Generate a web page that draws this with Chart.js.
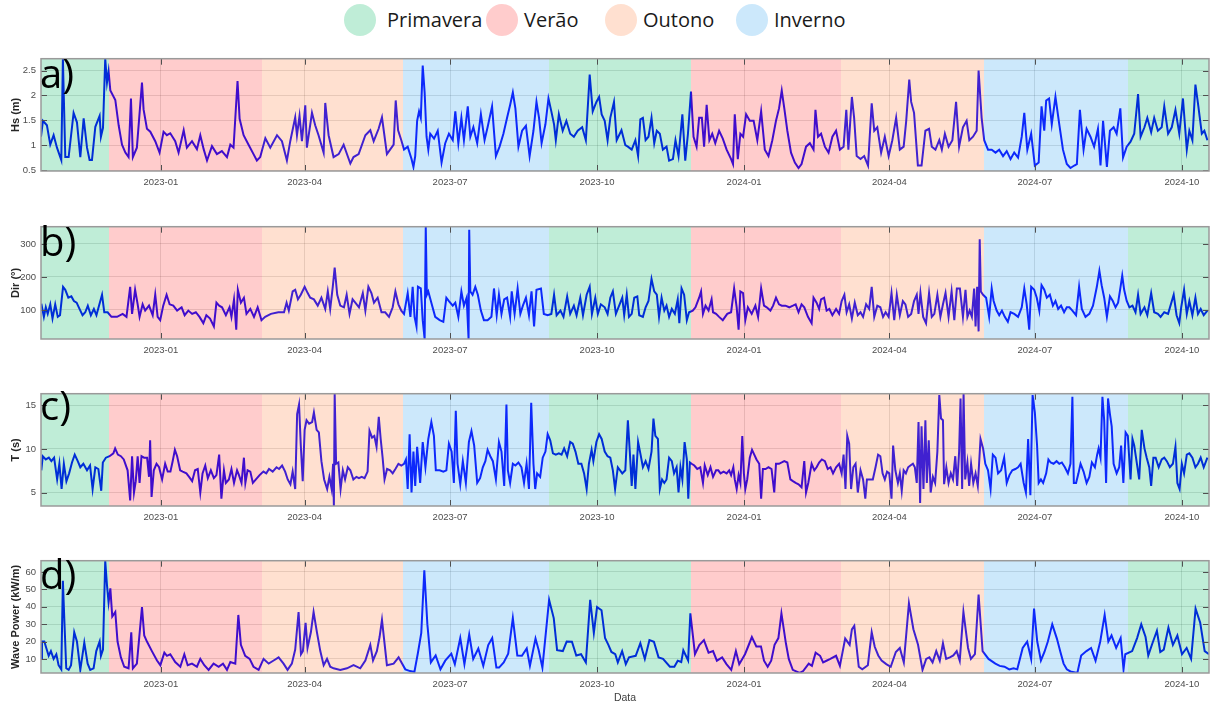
<!DOCTYPE html>
<html>
<head>
<meta charset="utf-8">
<title>Hs, Dir, T e Wave Power por estação</title>
<script src="https://cdn.jsdelivr.net/npm/chart.js@4.4.1/dist/chart.umd.min.js"></script>
<style>
  html, body { margin: 0; padding: 0; background: #fff; }
  body { width: 1212px; height: 704px; position: relative; overflow: hidden; font-family: 'Open Sans', 'Noto Sans', sans-serif; }
  .legend-dot { position: absolute; width: 32px; height: 32px; border-radius: 50%; }
  .legend-text { position: absolute; font-size: 20px; line-height: 32px; color: #1a1a1a; white-space: nowrap; }
  .panel { position: absolute; left: 0; width: 1212px; }
  .panel canvas { display: block; }
  .panel-label { position: absolute; left: 40px; font-size: 40px; line-height: 40px; color: #000; pointer-events: none; }
</style>
</head>
<body>
<div id="legend"></div>
<div id="panels"></div>
<script>
// x axis is in days since 2022-10-18
const xMin = 0;
const xMax = 731;
const tickDays = [75, 165, 256, 348, 440, 531, 622, 714];
const tickLabels = ['2023-01', '2023-04', '2023-07', '2023-10', '2024-01', '2024-04', '2024-07', '2024-10'];

const seasonNames = ['Primavera', 'Verão', 'Outono', 'Inverno'];
const seasonColors = ['rgba(0,183,95,0.25)', 'rgba(255,51,51,0.25)', 'rgba(255,131,67,0.25)', 'rgba(51,163,239,0.25)'];
const seasonStarts = [0, 42.5, 138.5, 226.5, 318, 407, 500.5, 590, 680];
const seasonOfBand = [0, 1, 2, 3, 0, 1, 2, 3, 0];

// [day, value]
const hsPoints = [[0,1.17],[1.2,1.49],[3.7,1.40],[5.8,1.01],[7.9,1.2],[10,0.95],[12.7,0.7],[13.7,2.74],[15.2,0.76],[17.3,0.76],[20.4,1.65],[22.5,1.46],[24.6,0.76],[26.7,1.54],[28.8,0.95],[30.4,0.7],[31.9,0.7],[34,1.37],[36.7,1.59],[37.5,1.17],[38.8,1.35],[40.2,2.74],[41.3,2.26],[42.3,2.49],[43.4,2.1],[46.5,1.91],[48.6,1.40],[50.7,1.01],[52.8,0.85],[54.8,0.76],[56.3,1.94],[57.5,0.76],[60,0.95],[63.2,2.26],[64.2,1.72],[66.3,1.33],[68.4,1.27],[71.5,1.08],[74.2,0.85],[76.7,1.27],[78.8,1.2],[80.9,1.24],[84,1.08],[86.1,0.85],[89.3,1.30],[91.3,0.95],[94.5,1.08],[97.6,0.92],[99.7,1.2],[101.8,0.92],[103.9,0.69],[107,0.98],[110.1,0.82],[113.2,0.88],[116.4,0.76],[118.5,1.01],[120.5,0.95],[123,2.29],[124.3,1.53],[126.8,1.2],[129.9,1.01],[133,0.82],[135.1,0.69],[137.2,0.76],[140.4,1.14],[143.5,0.95],[147.7,1.2],[150.8,1.08],[153.9,0.69],[156,1.08],[159.1,1.56],[160.2,1.2],[161.8,1.59],[163.3,1.08],[165.4,1.8],[166.4,0.95],[169.6,1.65],[171.6,1.40],[173.7,1.2],[176.9,0.85],[177.9,1.85],[180,1.2],[183.1,0.76],[186.3,0.82],[189.4,1.01],[193.6,0.63],[195.6,0.76],[198.8,0.82],[203,1.2],[206.1,1.30],[208.2,1.08],[211.3,1.33],[213.4,1.56],[216.5,0.82],[220.7,1.01],[222,1.9],[223.5,1.3],
[225.5,1.10],[227.2,0.91],[229.5,0.97],[231.9,0.72],[233.1,0.56],[234.2,0.78],[235.4,1.49],[236.6,1.68],[237.7,1.55],[238.9,2.6],[240.1,2.06],[241.3,1.17],[242.4,0.91],[243.6,1.23],[246,1.13],[248.3,1.29],[250.7,0.65],[253,1.04],[255.3,1.23],[257.7,1.1],[259.3,1.68],[261.2,1.04],[263.1,1.55],[264.7,1.1],[267.1,1.78],[268.7,1.17],[270.6,1.36],[273,1.04],[275.3,1.62],[277.6,1.1],[279.5,1.36],[282.3,1.78],[284.7,0.78],[287,0.97],[289.4,1.23],[291.7,1.55],[293.6,1.81],[295.3,2.06],[296.9,1.74],[298.8,0.97],[301.1,1.29],[303.5,1.39],[305.8,0.78],[308.2,1.29],[310.1,1.87],[311.7,1.55],[313.3,1.04],[315.7,1.42],[317.6,1.94],[319.4,1.68],[321.1,1.42],[322.2,1.1],[324.1,1.62],[326.5,1.29],[328.8,1.49],[331.2,1.23],[333.5,1.17],[335.9,1.29],[338.7,1.36],[341,1.1],[343.4,2.42],[345.3,1.68],[347.6,1.87],[349.3,1.97],[350.9,1.62],[352.8,1.49],[354.6,1.1],[356.3,1.55],[358.6,1.87],[360.3,1.1],[363.3,1.3],[365.7,1.0],
[367.3,0.97],[369.7,0.91],[372,1.1],[373.7,0.78],[375.1,1.52],[376.7,1.55],[378.4,1.1],[380.2,1.17],[382.1,1.55],[383.8,1.04],[385.4,1.29],[387.3,1.23],[389.2,0.91],[391.5,0.97],[393.1,0.69],[395.5,0.72],[397.1,1.1],[399,0.78],[401.4,1.62],[403.2,0.69],[404.9,1.23],[406.8,2.08],[408.4,1.17],[410.3,0.97],[411.9,1.55],[413.6,1.55],[415,0.97],[416.6,1.81],[418.3,1.1],[420.1,1.23],[422,1.04],[424.4,1.29],[426.7,1.13],[429.1,0.91],[431.9,0.72],[433.1,0.62],[434.2,1.62],[436.1,0.72],[437.7,1.23],[439.4,1.17],[441.3,1.62],[443.6,1.49],[446,1.49],[448.3,1.1],[450.7,1.68],[453,0.91],[455.3,0.78],[457.7,1.1],[460,1.49],[461.9,1.74],[463.6,2.1],[465.2,1.74],[467.1,1.29],[469.4,0.85],[471.8,0.65],[474.1,0.54],[476,0.62],[478.8,0.97],[481.2,1.04],[483.5,0.91],[484.7,1.71],[486.3,1.17],[488.2,1.23],[490.6,0.97],[492.9,0.85],[495.3,1.17],[497.6,1.29],[500,0.91],[502.3,0.97],[504,1.71],[505.3,0.91],[507.5,1.97],[508.9,1.55],[510.5,0.78],[512.9,0.72],[515.2,0.78],[517.6,0.59],[519.9,1.84],[521.5,1.29],[523.4,1.36],[525.8,0.85],[528.1,1.17],[530.5,0.78],[532.8,1.1],[535.2,1.55],[537.5,0.91],[539.9,0.97],[541.5,1.49],[543.4,2.32],[544.6,1.87],[546.4,1.65],[548.8,0.59],[551.1,0.59],[553.5,1.29],[555.8,1.33],[557.5,0.97],[559.8,0.91],[562.2,1.1],[563.8,0.91],[565.7,1.23],[568,0.97],[570.4,1.1],[572.7,1.87],[574.6,0.97],[577,1.36],[579.3,1.49],[581,1.1],[583.3,1.17],[585.6,1.29],[586.8,2.5],[588.7,1.55],[590.3,1.1],[592.7,0.91],[595,0.91],[597.4,0.85],[599.7,0.91],[602.1,0.78],[604.4,0.88],[606.8,0.72],[609.1,0.85],[611.5,0.75],[613.8,1.17],[615.4,1.65],[617.3,0.91],[619.7,1.23],[622,0.59],[624.4,0.65],[626.2,1.78],[627.9,1.29],[629.1,1.9],[630.9,1.94],[632.6,1.42],[634.9,1.97],[637.3,1.42],[639.6,0.91],[642,0.62],[644.3,0.54],[646.7,0.59],[648.3,0.62],[650.2,1.71],[652.5,0.91],[654.4,1.33],[656.8,1.17],[659.1,0.97],[661.5,1.33],[663.1,0.59],[664.7,1.49],[667.1,0.56],[669,1.29],[671.3,1.36],[673.2,1.23],[675.5,1.74],[677.2,0.75],[679.5,0.97],[681.9,1.07],[684.2,1.23],[686.6,2.03],[688.2,1.17],[690.6,1.36],[692.4,1.55],[694.8,1.26],[696.7,1.55],[699,1.29],[701.4,1.36],[703,1.78],[705.4,1.23],[707.7,1.36],[710,1.71],[712.4,1.23],[714.7,1.94],[717.1,0.91],[718.7,1.29],[720.6,1.1],[722.5,2.22],[724.1,1.84],[726.5,1.23],[728.1,1.29],[730,1.1]];

const dirPoints = [[0.2,119],[1.8,79],[3,108],[4.2,88],[5.8,117],[7.2,74],[8.9,117],[10.5,79],[11.9,84],[13.8,170],[15.2,161],[17.1,137],[19,141],[20.6,127],[22.3,122],[24.1,103],[26,84],[27.7,93],[29.3,113],[31.2,84],[33.1,103],[34.7,84],[36.3,113],[38.2,146],[39.6,93],[41.7,93],[44.1,79],[47.6,79],[51.1,88],[53.5,79],[55.8,170],[57,88],[58.9,161],[60.5,117],[61.7,79],[63.6,117],[65.2,98],[67.6,113],[69.9,84],[71.5,146],[73,79],[74.6,69],[76.5,113],[78.6,146],[80.5,117],[82.8,113],[85.2,98],[88,108],[89.9,84],[92.2,98],[94.6,88],[96.9,93],[99.2,79],[101.6,60],[103.5,84],[105.8,74],[108.2,50],[109.8,122],[111.5,113],[113.3,108],[115.7,84],[118,108],[119.2,79],[120.8,132],[122.2,40],[123.2,161],[125.1,122],[127,137],[128.6,88],[131,103],[133.3,79],[135.6,108],[138,69],[140.3,79],[143.9,88],[148.5,93],[152.1,93],[153.7,122],[155.1,98],[157.5,156],[159.1,161],[160.8,132],[162.6,146],[165,170],[166.9,151],[168.5,137],[170.8,132],[173.2,113],[175.5,137],[177.9,103],[179.5,156],[181,103],[182.6,170],[183.8,228],[185.4,146],[187.3,113],[189.6,108],[191.3,146],[193.1,88],[195,132],[196.7,122],[199,108],[201.4,151],[203,98],[204.9,170],[206.8,151],[208.4,122],[210.7,137],[213.1,93],[215.4,93],[217.8,79],[220.1,108],[221.8,156],[223.7,117],[225.5,98],[227.2,88],[229.5,151],[231.2,79],[232.6,170],[233.8,79],[235,50],[235.9,170],[237.7,165],[238.9,69],[240.1,12],[240.8,352],[241.5,146],[242.4,156],[244.3,122],[246.7,79],[249.5,69],[251.8,64],[253.7,137],[255.3,127],[257.7,113],[259.3,122],[261.2,79],[263.1,156],[264.7,113],[266.4,137],[267.6,12],[268,343],[268.7,156],[270.1,146],[271.8,170],[273.4,146],[275.3,98],[277.2,69],[279.5,69],[281.9,79],[283.5,165],[285.2,84],[286.6,146],[288.2,88],[289.9,132],[291.7,137],[293.6,79],[294.6,156],[296.4,88],[298.3,165],[300,88],[301.6,113],[303.5,137],[305.4,84],[307,156],[308.6,50],[310.1,161],[312.9,165],[314.7,88],[317.1,84],[319.4,88],[321.1,146],[322.7,84],[325.1,98],[327,79],[329.3,141],[331.2,88],[333.5,113],[335.2,84],[337.5,137],[339.2,84],[341.5,146],[343.4,170],[344.8,88],[346.9,137],[348.5,88],[350.4,117],[352.8,108],[354.6,88],[356.3,137],[357.9,156],[359.8,88],
[363.8,137],[365,84],[366.6,146],[368,79],[369.7,88],[371.3,137],[373.2,141],[374.4,84],[376.7,79],[378.4,108],[380.2,127],[382.1,194],[383.8,156],[385.4,146],[386.8,79],[388.4,137],[390.1,98],[391.5,113],[393.1,79],[394.8,103],[396.7,88],[398.5,132],[399.5,60],[400.9,165],[402.5,146],[404.2,69],[405.6,93],[407.9,98],[409.6,108],[411.9,137],[413.1,156],[414.3,88],[415.9,113],[417.8,98],[419.7,132],[420.6,93],[422.5,88],[424.4,79],[426.7,69],[429.5,88],[431.9,93],[433.8,165],[435.4,108],[436.6,40],[437.7,156],[439.4,151],[440.8,69],[442.4,108],[444.8,88],[447.1,113],[448.8,79],[450.7,165],[452.5,113],[454.2,108],[456.5,98],[458.2,113],[460,137],[461.9,117],[463.6,113],[465.9,113],[468.3,108],[470.6,113],[472.3,117],[474.1,93],[476,117],[477.7,108],[480,79],[482.3,60],[483.5,137],[485.4,122],[487,103],[488.2,132],[490.1,137],[491.7,98],[493.4,103],[495.3,84],[497.6,103],[499.5,88],[501.1,127],[502.8,146],[504.2,93],[505.8,117],[507.5,74],[509.3,122],[511.2,84],[512.9,93],[514.5,79],[516.4,117],[518.3,103],[519.9,170],[521.5,79],[523.4,113],[525.3,108],[527,79],[528.6,93],[530.5,79],[532.3,151],[534,69],[535.6,146],[537.5,84],[539.4,127],[541,117],[542.7,79],[544.6,88],[546.4,127],[548.1,146],[549.2,88],[550.4,151],[552.1,79],[553.9,60],[555.8,151],[557.5,79],[559.1,88],[561,146],[562.9,79],[564.5,117],[566.1,151],[568,79],[569.9,156],[571.6,69],[573.2,165],[575.1,165],[577,79],[578.6,161],[579.8,79],[581.2,98],[582.6,79],[584,165],[584.9,50],[585.9,170],[586.8,35],[587.5,314],[588.2,156],[589.6,146],[591.5,137],[593.4,79],[595,165],[596.2,127],[598.1,98],[599.7,84],[601.4,98],[603.2,79],[605.1,64],[606.8,93],[609.1,88],[611.5,79],[613.8,108],[615.4,165],[616.9,117],[618.5,40],[619.7,170],[621.6,161],[623.2,137],[624.8,98],[626.2,175],[627.9,161],[629.5,137],[631.4,146],[633.3,113],[634.9,127],[636.6,103],[638.4,113],[640.3,93],[642,108],[643.6,108],[645.5,98],[647.8,84],[649.7,170],[651.4,103],[653.7,79],[656.1,88],[658.4,113],[660.8,170],[662.4,218],[663.8,175],[665.4,137],[667.1,79],[669,141],[670.8,127],[672.5,108],[674.1,122],[675.5,165],[676.7,204],[677.9,161],[679.5,127],[681.2,108],[683.1,113],[685,93],[686.6,146],[688.2,88],[690.6,108],[692.4,84],[694.8,151],[696.7,93],[699,88],[700.7,79],[703,93],[705.4,88],[708.9,146],[710.7,84],[712.4,60],[713.6,108],[715.4,161],[717.1,88],[718.7,127],[720.6,84],[722.5,137],[724.1,88],[725.8,103],[727.7,84],[730,98]];

const tPoints = [[0.2,7.55],[1.1,9.17],[3,8.8],[4.9,9.0],[6.5,8.6],[8.2,9.0],[10.1,6.5],[11.5,8.3],[12.9,5.4],[14.3,8.3],[15.9,6.3],[17.6,7.2],[19.4,8.45],[21.1,9.35],[23,8.6],[24.6,7.9],[26.5,8.3],[28.8,7.55],[30.7,8.1],[32.3,5.4],[34,7.9],[35.9,7.7],[37.7,5.2],[38.7,8.45],[40.6,9.0],[42.9,9.17],[45.3,9.5],[46.4,10.07],[48.1,9.35],[50,9.17],[51.8,8.8],[54.2,7.55],[55.8,4.1],[57,9.17],[58.2,5.0],[59.3,6.3],[60.5,9.17],[61.7,6.1],[62.9,9.17],[64.5,9.0],[66.4,9.0],[67.6,6.8],[68.3,11.0],[69.2,4.5],[70.6,7.55],[72.3,8.3],[73.9,7.9],[75.8,6.5],[77.7,8.3],[79.3,7.4],[81,7.4],[82.4,8.6],[83.8,9.9],[85.2,9.17],[87.1,7.55],[88.7,7.4],[91,7.2],[92.7,6.8],[94.6,6.3],[96.4,7.55],[98.1,7.7],[99.7,5.0],[101.1,7.2],[102.8,8.1],[104.4,6.65],[106.3,7.55],[108.2,6.65],[109.8,7.0],[111.5,9.35],[112.9,4.3],[114.5,7.55],[115.7,6.1],[117.6,6.5],[119.2,7.7],[120.8,6.1],[122.7,7.55],[123.9,7.0],[125.5,6.1],[127,9.0],[127.9,6.1],[129.3,7.55],[131,7.4],[132.6,6.1],[134.5,6.5],[136.8,7.0],[139.2,7.4],[141,7.2],[142.7,7.7],[145,7.4],[147.4,7.9],[149,7.7],[150.9,8.1],[152.8,7.4],[154.4,6.5],[156.1,5.95],[157.5,7.4],[159.1,5.4],[160.3,14.0],[161.5,15.1],[162.6,10.4],[163.8,6.3],[165,12.2],[166.2,13.3],[167.8,12.9],[169.7,13.1],[170.8,14.2],[172.5,12.2],[173.9,11.9],[175.5,8.6],[177.2,6.5],[179.1,5.4],[180.5,6.8],[181.9,5.4],[182.8,8.3],[183.3,3.45],[183.8,16.35],[184.7,8.3],[186.1,8.45],[187.5,5.4],[188.9,7.55],[190.3,6.5],[192,7.9],[193.6,7.55],[195.5,6.5],[197.4,6.8],[199,6.65],[200.7,6.8],[202.5,6.65],[204.4,7.4],[205.6,12.1],[207.2,11.3],[208.6,11.5],[210,10.25],[211.4,13.7],[212.6,11.15],[213.8,9.0],[215,6.5],[216.6,7.7],[218.5,7.55],[220.1,7.2],[221.8,7.7],[223.7,8.3],[225.5,8.1],[227.2,8.3],[228.4,8.8],[229.5,5.4],[230.7,11.7],[231.9,5.0],[233.1,9.7],[234.2,5.75],[235.4,10.25],[237.3,6.1],[238.9,10.8],[240.6,7.9],[242.4,11.15],[244.3,13.1],[245.9,11.5],[247.1,7.55],[249.5,7.55],[251.8,7.4],[253.7,7.55],[255.3,10.6],[257,9.7],[258.4,6.1],[259.6,14.4],[260.7,8.3],[262.4,5.95],[264,8.6],[265.9,6.1],[267.8,10.8],[269.4,12.05],[271.1,10.4],[273,6.1],[274.8,6.65],[276.5,7.9],[278.1,8.6],[279.5,9.9],[281.2,9.17],[282.8,8.6],[284.7,6.5],[286.6,10.8],[288.2,9.7],[289.9,5.75],[291.3,15.1],[292.2,7.55],[293.6,6.1],[295.3,8.3],[296.9,8.1],[298.8,8.45],[300.7,7.9],[302.3,6.1],[303.9,8.3],[305.4,5.4],[306.8,15.3],[308.2,8.3],[309.3,5.4],[310.5,7.2],[312.4,6.8],[314,9.0],[315.7,9.7],[317.1,11.7],[318.7,11.0],[320.4,9.5],[322.2,9.35],[324.1,9.5],[325.8,9.35],[327.4,10.07],[329.3,9.17],[331.2,10.8],[332.8,10.6],[334.5,9.7],[336.3,8.3],[338.2,8.3],[339.9,7.2],[341.5,5.4],[342.9,8.3],[344.6,9.9],[345.7,8.6],[347.6,10.8],[349.3,11.7],[350.9,11.15],[352.8,9.7],[354.6,9.17],[356.3,9.0],[357.9,7.55],[359.3,5.4],[361,7.9],
[363.8,7.2],[365.7,7.55],[367.3,13.3],[368.5,9.7],[369.7,5.75],[370.8,9.35],[372,5.4],[373.7,10.8],[375.1,9.5],[376.7,7.9],[378.4,8.6],[380.2,7.7],[382.1,9.7],[383.3,13.5],[384.5,11.5],[386.1,11.15],[387.3,5.4],[388.7,6.5],[390.1,6.1],[391.5,6.5],[393.1,9.0],[394.8,8.6],[396.2,7.2],[397.8,7.9],[399,5.0],[400.2,7.9],[401.4,6.5],[402.8,10.8],[404.2,8.8],[405.1,4.3],[406.1,8.45],[407.2,8.3],[408.9,8.1],[410.7,7.7],[412.6,7.9],[414.3,6.1],[415.4,8.1],[417.3,7.0],[419,7.9],[420.6,6.8],[422.5,7.55],[423.9,7.55],[425.3,7.2],[427.2,7.4],[429.1,7.2],[430.7,7.55],[431.9,7.0],[433.3,7.9],[434.2,6.5],[435.4,5.4],[436.6,7.0],[437.7,6.1],[438.9,11.5],[439.9,7.2],[440.8,5.4],[442,6.5],[443.6,9.0],[445,9.9],[446.4,9.35],[447.8,8.8],[449.5,8.3],[450.7,4.3],[451.8,7.7],[453.5,7.7],[455.3,7.9],[457.2,7.7],[458.9,5.0],[460,8.3],[461.9,8.3],[463.6,8.45],[465.2,8.6],[467.1,8.45],[469,6.5],[470.6,6.3],[472.3,6.1],[474.1,5.95],[476,5.6],[477.7,8.6],[478.8,5.0],[480.2,6.1],[482.3,8.3],[484,7.55],[485.4,7.9],[487,8.45],[488.7,8.8],[490.6,8.6],[492.4,7.7],[494.1,7.9],[495.7,7.2],[497.6,7.9],[499.5,8.3],[501.1,7.2],[502.3,9.35],[503.5,5.4],[504.6,11.5],[505.8,10.6],[507,5.4],[508.4,7.9],[509.8,8.3],[511.2,5.0],[512.9,7.55],[514.5,6.5],[515.9,4.3],[516.9,6.5],[518.7,6.5],[520.6,6.5],[522.3,7.9],[523.9,9.35],[525.3,9.17],[526.7,7.2],[528.1,6.5],[529.5,7.4],[530.9,7.2],[532.3,4.3],[533.3,10.4],[534.7,7.55],[536.3,6.1],[537.5,7.2],[538.7,5.2],[539.9,7.55],[541.3,7.2],[542.7,7.9],[544.1,8.1],[545.7,8.3],[546.9,7.9],[548.1,6.1],[549.2,13.1],[550.2,3.8],[551.1,12.6],[552.3,5.4],[553.5,13.3],[554.4,6.1],[555.6,11.0],[556.8,5.0],[558.2,6.8],[559.6,6.1],[561,9.7],[562.2,16.2],[563.3,13.5],[564.5,13.3],[565.2,5.95],[566.6,7.9],[568,6.1],[569.4,7.2],[570.8,6.5],[572.2,9.17],[573.4,5.75],[574.6,9.7],[575.5,15.8],[576.5,5.4],[577.4,16.35],[578.4,6.5],[579.8,8.45],[580.9,5.75],[582.1,8.3],[583.5,6.1],[584.9,7.2],[586.3,5.75],[588,11.15],[589.6,10.07],[591,8.3],[592.7,7.55],[594.3,5.4],[595.7,9.35],[597.4,9.0],[599,7.2],[600.9,7.55],[602.8,9.0],[604.4,6.1],[606.1,7.0],[607.9,7.55],[609.8,7.7],[611.5,7.9],[613.1,8.3],[615,6.1],[616.4,5.0],[617.8,11.15],[619.2,4.7],[620.6,16.2],[622,14.2],[623.4,10.4],[624.4,6.1],[625.8,6.5],[627.2,6.1],[629.1,7.2],[630.5,8.8],[631.9,8.45],[633.7,8.3],[635.6,8.6],[637.3,8.3],[638.9,8.45],[640.8,7.9],[642.7,7.2],[644.3,8.3],[645.5,16.0],[646.4,6.1],[647.8,6.1],[649.3,7.2],[650.6,8.3],[652.5,7.4],[654.4,6.1],[656.1,6.8],[657.7,8.45],[659.6,7.9],[661,9.35],[661.9,10.07],[663.1,9.0],[664.3,16.0],[665.4,13.3],[666.6,6.1],[667.8,15.8],[669,14.0],[670.1,12.6],[671.3,8.3],[673.2,7.2],[674.8,7.9],[676,10.4],[677.4,6.1],[678.8,11.9],[680.2,11.5],[681.9,6.5],[683.1,11.15],[684.2,10.4],[685.9,8.3],[687.3,6.5],[688.9,12.2],[690.6,10.07],[692,9.0],[693.6,7.9],[694.8,5.75],[696.2,9.0],[697.6,9.0],[699.5,7.9],[701.4,8.8],[703,9.0],[704.6,8.6],[706.5,7.9],[708.4,8.3],[710,10.25],[711.2,6.1],[712.6,5.4],[714,8.3],[715.4,7.2],[717.1,9.35],[718.7,9.5],[720.6,9.0],[722.5,7.9],[724.1,8.3],[725.8,9.0],[727.7,7.9],[730,9.0]];

const powerPoints = [[0,10],[0.6,20],[2.1,20],[3.3,16.3],[4.8,11.8],[6.2,14.5],[7.9,10],[9.6,12.7],[11,6.4],[12.7,4],[13.7,55],[14.6,32.5],[15.8,4.6],[17.3,3.7],[18.8,6.4],[20.8,25.3],[22.5,20],[24.6,3.7],[27.1,19.4],[29.2,7.3],[30.8,3.7],[32.9,4.6],[34.6,14.5],[36.7,20],[37.5,11.8],[38.8,15.4],[40.2,66.5],[41.3,52.4],[42.3,42.5],[43.4,50.6],[44.6,34.4],[46.5,37],[47.9,20],[50,10.9],[52.1,5.5],[54.8,4.6],[56.5,25.3],[57.5,4.6],[60,7.3],[63.2,39.8],[64.6,23.5],[66.3,20],[69.4,14.5],[72.6,9.1],[74.7,6.4],[77.2,13.6],[78.8,11.8],[80.9,12.7],[84,8.2],[87.2,5.5],[89.7,12.7],[91.8,6.4],[94.5,7.3],[97.6,5.5],[99.7,10],[102.2,6.4],[104.9,3.7],[108,7.3],[111.2,5.5],[113.9,7.3],[116.4,3.7],[118.5,8.2],[121.6,7.3],[123.5,35.3],[125.1,18.1],[127.8,11.8],[130.6,10],[133,5.5],[136.2,3.7],[139.3,10],[142.5,7.3],[145.6,9.1],[148.7,10.9],[151.8,7.3],[154.3,3.7],[157,7.3],[159.1,15.4],[161.2,37],[162.7,12.7],[163.9,14.5],[165.6,30.8],[166.8,16.3],[168.9,25.3],[170.6,37],[172.7,25.3],[174.8,14.5],[176.9,6.4],[179,10],[181,5.5],[183.1,4.6],[187.3,3.7],[191.5,4.6],[195.6,6.4],[199.8,4.6],[203,9.1],[206.1,18.1],[207.8,9.1],[210.2,14.5],[211.9,22.6],[213.4,32.5],[216.5,6.4],[220.7,7.3],[223.8,10.9],
[228,4],[231,3],[233.7,2.5],[236,14],[238,25],[239.9,61],[241.8,30],[244,8],[247,12],[250,4],[253,9],[256.8,13],[259,7],[262.4,22],[265,7],[268,24],[270.5,10],[273.7,16],[276.8,6],[279.9,18],[282.4,22],[285,5],[286.7,5],[289.6,8],[292.4,13],[295.3,33.5],[298.1,12],[301,11.8],[304,16],[306,6],[309.5,21.7],[311.5,15],[313.8,5],[318,44],[320.9,33.5],[323,15],[326.6,14.5],[329,20],[332.3,19.9],[335,12],[338,12.7],[341,8],[343.7,44],[346,25],[348,39.8],[350.8,38],[353,22],[355.1,18.1],[357,14],[359.4,12.7],[361,8],[363.7,14.5],[366,7],[368,10.9],[372.2,11.8],[375.1,19],[377.9,10],[380.8,20.8],[383.6,19.9],[386.5,10.9],[389.3,10],[393.6,5.5],[396.4,5.5],[398.5,9],[400.7,8.2],[402,15],[405,9.1],[406.4,36.2],[409.3,12.7],[412,18],[414.9,20.8],[417.8,13.6],[420.6,14.5],[423,9],[426.3,10.9],[429,7],[432,3.7],[434.9,14.5],[437,7],[440.6,12.7],[442.5,17],[444.9,22.6],[447.7,17.2],[450.6,17.2],[452.5,9],[454.8,5.5],[457,9],[459.1,18.1],[461.5,22],[463.4,36.2],[466.2,19],[468,10],[470.5,3.7],[474.8,1.9],[477,3],[480.5,7.3],[482.5,6],[484.8,13.6],[487.6,11.8],[489.5,8],[491.9,9.1],[494,10],[497.6,11.8],[500,6],[503.3,21.7],[506.1,18.1],[507.5,27],[509,29],[511.8,5.5],[514,4],[517.5,6.4],[519.9,25.3],[521.8,17],[524,12],[526.1,9.1],[529,7],[531.8,5.5],[535,14],[537.5,16.3],[540,8],[543.2,42],[546,27.1],[548.9,18.1],[551.7,3.7],[554,10],[556,10.9],[558,8],[560.3,14.5],[562.5,9],[564.5,19],[566.5,10],[568.8,10.9],[571,12],[573.1,14.5],[575,9],[577.3,37.1],[580.2,16.3],[582,10],[584.5,12.7],[586.8,47],[589.3,14.5],[593,10],[597.3,7.3],[600,6],[603,5.5],[606,4],[608.7,4.6],[611,4],[614.4,16.3],[617.2,19.9],[619.7,10],[621.5,38.9],[623.5,20],[625.8,9.1],[628,14],[630.1,19.9],[632.9,29.9],[635.8,21.7],[638,14],[640,7.3],[642,4],[644.3,2.8],[648.6,1.9],[651,12],[654.3,14.5],[657.2,16.3],[660,9],[662.9,19.9],[665.7,35.3],[668,20],[670,23.5],[672.9,16.3],[675.7,22],[677.5,4],[678.6,12.7],[682.9,14.5],[686,22],[688.6,29.9],[691.3,22.6],[693,12],[695.6,19],[698.4,26.2],[700.5,14],[702.7,15.4],[705.6,28],[708.4,18.1],[711.2,23.5],[714.1,12.7],[717,16.3],[719.8,10],[722.6,38.9],[725.5,30.8],[728.3,14.5],[731,12.7]];

// panel layout
const panels = [
  { label: 'a)', title: 'Hs (m)', points: hsPoints, min: 0.48, max: 2.74, yTicks: [0.5, 1, 1.5, 2, 2.5], top: 52, labelTop: 52.5 },
  { label: 'b)', title: 'Dir (°)', points: dirPoints, min: 12, max: 352, yTicks: [100, 200, 300], top: 220, labelTop: 220.5 },
  { label: 'c)', title: 'T (s)', points: tPoints, min: 3.45, max: 16.35, yTicks: [5, 10, 15], top: 387, labelTop: 385 },
  { label: 'd)', title: 'Wave Power (kW/m)', points: powerPoints, min: 1.9, max: 66.5, yTicks: [10, 20, 30, 40, 50, 60], top: 554, labelTop: 554, xTitle: 'Data' }
];
const plotHeight = 119;
const padTop = 4;

function buildLegend(){
  const legend = document.getElementById('legend');
  const dotCenters = [360, 502, 621, 752];
  const textLefts = [387, 524, 643, 774];
  for (let i = 0; i < seasonNames.length; i++){
    const dot = document.createElement('div');
    dot.className = 'legend-dot';
    dot.style.left = (dotCenters[i] - 16) + 'px';
    dot.style.top = '4px';
    dot.style.background = seasonColors[i];
    legend.appendChild(dot);
    const txt = document.createElement('div');
    txt.className = 'legend-text';
    txt.style.left = textLefts[i] + 'px';
    txt.style.top = '4px';
    txt.innerText = seasonNames[i];
    legend.appendChild(txt);
  }
}

const seasonPlugin = {
  id: 'seasonBands',
  afterDatasetsDraw(chart) {
    const {ctx, chartArea, scales} = chart;
    const {left, right, top, bottom} = chartArea;
    ctx.save();
    // seasons drawn over the line, semi transparent
    for (let i = 0; i < seasonStarts.length; i++){
      const end = i + 1 < seasonStarts.length ? seasonStarts[i + 1] : xMax;
      const x0 = Math.round(scales.x.getPixelForValue(seasonStarts[i]));
      const x1 = Math.round(scales.x.getPixelForValue(end));
      ctx.fillStyle = seasonColors[seasonOfBand[i]];
      ctx.fillRect(x0, top, x1 - x0, bottom - top);
    }
    // tick marks inside the box
    ctx.strokeStyle = '#505050';
    ctx.lineWidth = 1;
    ctx.beginPath();
    tickDays.forEach(d => {
      const px = Math.round(scales.x.getPixelForValue(d)) + 0.5;
      ctx.moveTo(px, top); ctx.lineTo(px, top + 6);
      ctx.moveTo(px, bottom); ctx.lineTo(px, bottom - 6);
    });
    scales.y.ticks.forEach(t => {
      const py = Math.round(scales.y.getPixelForValue(t.value)) + 0.5;
      ctx.moveTo(left, py); ctx.lineTo(left + 6, py);
      ctx.moveTo(right, py); ctx.lineTo(right - 6, py);
    });
    ctx.stroke();
    // box
    ctx.strokeStyle = '#9a9a9a';
    ctx.lineWidth = 1.5;
    ctx.strokeRect(left, top, right - left, bottom - top);
    ctx.restore();
  }
};

function makePanel(p){
  const xAxisH = p.xTitle ? 31 : 22;
  const holder = document.createElement('div');
  holder.className = 'panel';
  holder.style.top = (p.top - padTop) + 'px';
  const canvas = document.createElement('canvas');
  canvas.width = 1212;
  canvas.height = padTop + plotHeight + xAxisH;
  holder.appendChild(canvas);
  const lab = document.createElement('div');
  lab.className = 'panel-label';
  lab.style.top = (p.labelTop - p.top + padTop) + 'px';
  lab.innerText = p.label;
  holder.appendChild(lab);
  document.getElementById('panels').appendChild(holder);

  new Chart(canvas.getContext('2d'), {
    type: 'line',
    data: {
      datasets: [{
        data: p.points.map(d => ({x: d[0], y: d[1]})),
        borderColor: 'rgb(0,0,255)',
        borderWidth: 2,
        pointRadius: 0,
        tension: 0,
        fill: false
      }]
    },
    options: {
      responsive: false,
      animation: false,
      events: [],
      layout: { padding: { top: padTop, right: 3, left: 0, bottom: 0 } },
      plugins: { legend: { display: false }, tooltip: { enabled: false } },
      scales: {
        x: {
          type: 'linear',
          min: xMin,
          max: xMax,
          afterBuildTicks: s => { s.ticks = tickDays.map(v => ({ value: v })); },
          afterFit: s => { s.height = xAxisH; },
          ticks: {
            autoSkip: false,
            maxRotation: 0,
            padding: 6,
            color: '#4d4d4d',
            font: { family: "'Liberation Sans', Arial, sans-serif", size: 9.5 },
            callback: (v, i) => tickLabels[i]
          },
          grid: { color: 'rgba(0,0,0,0.13)', drawTicks: false },
          border: { display: false },
          title: {
            display: !!p.xTitle,
            text: p.xTitle || '',
            color: '#404040',
            padding: { top: 0, bottom: 0 },
            font: { family: "'Liberation Sans', Arial, sans-serif", size: 10.5 }
          }
        },
        y: {
          min: p.min,
          max: p.max,
          afterBuildTicks: s => { s.ticks = p.yTicks.map(v => ({ value: v })); },
          afterFit: s => { s.width = 41; },
          ticks: {
            padding: 5,
            color: '#4d4d4d',
            font: { family: "'Liberation Sans', Arial, sans-serif", size: 9.5 },
            callback: v => String(v)
          },
          grid: { color: 'rgba(0,0,0,0.13)', drawTicks: false },
          border: { display: false },
          title: {
            display: true,
            text: p.title,
            color: '#262626',
            padding: { top: 9, bottom: 0 },
            font: { family: "'Liberation Sans', Arial, sans-serif", size: 11, weight: 'bold' }
          }
        }
      }
    },
    plugins: [seasonPlugin]
  });
}

buildLegend();
panels.forEach(makePanel);
</script>
</body>
</html>
